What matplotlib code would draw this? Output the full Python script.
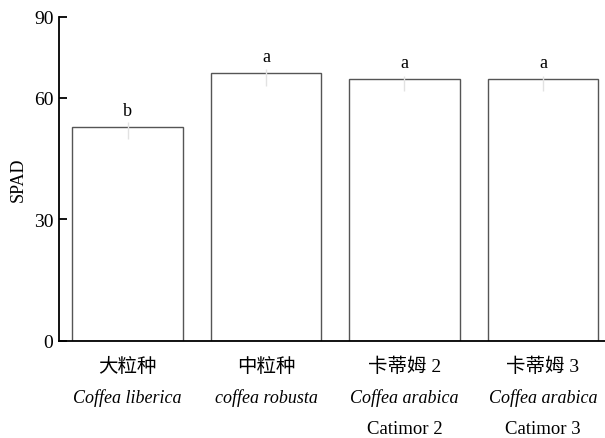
import matplotlib
matplotlib.use('Agg')
import matplotlib.pyplot as plt
from matplotlib.transforms import blended_transform_factory

# data
names_cn = ['大粒种', '中粒种', '卡蒂姆 2', '卡蒂姆 3']
names_lat = ['Coffea liberica', 'coffea robusta', 'Coffea arabica', 'Coffea arabica']
names_var = ['', '', 'Catimor 2', 'Catimor 3']
spad = [52.9, 66.2, 64.7, 64.7]
err_low = [3.0, 3.2, 3.0, 3.0]
err_high = [1.2, 1.0, 0.8, 0.8]
letters = ['b', 'a', 'a', 'a']
ytick_vals = [0, 30, 60, 80]
ytick_labels = ['0', '30', '60', '90']

serif = ['Liberation Serif', 'Noto Sans CJK SC']
plt.rcParams['font.family'] = serif

fig = plt.figure(figsize=(6.05, 4.39), dpi=100)
ax = fig.add_axes([0.0975, 0.221, 0.9025, 0.738])

x = list(range(len(spad)))
ax.bar(x, spad, width=0.8, color='white', edgecolor='#555555', linewidth=1.0, zorder=2)
ax.errorbar(x, spad, yerr=[err_low, err_high], fmt='none', ecolor='#e2e2e2',
            elinewidth=1.0, capsize=0, zorder=3)

# significance letters
for xi, v, l in zip(x, spad, letters):
    ax.annotate(l, (xi, v), xytext=(0, 11.5), textcoords='offset points',
                ha='center', va='center', fontsize=13)

ax.set_xlim(-0.495, 3.448)
ax.set_ylim(0, 80)
ax.set_yticks(ytick_vals)
ax.set_yticklabels(ytick_labels, fontsize=14)
ax.set_xticks(x)
ax.set_xticklabels([''] * len(x))
ax.tick_params(axis='y', direction='in', length=5.8, width=1.3, pad=4)
ax.tick_params(axis='x', direction='in', length=3.6, width=1.3)
ax.set_ylabel('SPAD', fontsize=13, labelpad=5)

for s in ['top', 'right']:
    ax.spines[s].set_visible(False)
for s in ['left', 'bottom']:
    ax.spines[s].set_linewidth(1.3)

# three-line category labels
tr = blended_transform_factory(ax.transData, fig.transFigure)
for xi, a, b, c in zip(x, names_cn, names_lat, names_var):
    ax.text(xi, 1 - 367 / 439, a, transform=tr, ha='center', va='center',
            fontsize=14, fontweight='light')
    ax.text(xi, 1 - 398 / 439, b, transform=tr, ha='center', va='center',
            fontsize=13, style='italic')
    if c:
        ax.text(xi, 1 - 430 / 439, c, transform=tr, ha='center', va='center', fontsize=13.5)

fig.savefig('out.png', dpi=100)
